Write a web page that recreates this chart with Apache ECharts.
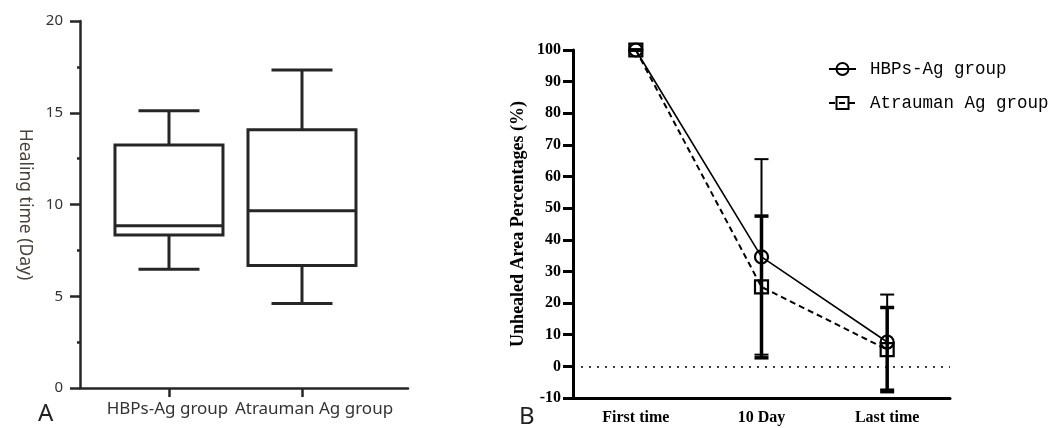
<!DOCTYPE html>
<html>
<head>
<meta charset="utf-8">
<script src="https://cdn.jsdelivr.net/npm/echarts@6/dist/echarts.min.js"></script>
<style>
  html, body { margin: 0; padding: 0; background: #fff; }
  #chart { width: 1051px; height: 428px; }
</style>
</head>
<body>
<div id="chart"></div>
<script>
// panel A - healing time (box plot)
const groups = ['HBPs-Ag group', 'Atrauman Ag group'];
const boxMin = [6.47, 4.61];
const boxQ1 = [8.34, 6.67];
const boxMedian = [8.84, 9.66];
const boxQ3 = [13.24, 14.08];
const boxMax = [15.11, 17.33];

// panel B - unhealed area percentages, mean and SD
const timePoints = ['First time', '10 Day', 'Last time'];
const hbpsMean = [100, 34.6, 7.7];
const hbpsSd = [0, 30.9, 15.0];
const atraMean = [100, 25.1, 5.3];
const atraSd = [0, 22.4, 13.3];

const chart = echarts.init(document.getElementById('chart'));

const boxData = groups.map((g, i) => [i, boxMin[i], boxQ1[i], boxMedian[i], boxQ3[i], boxMax[i]]);
const hbpsErr = timePoints.map((t, i) => [i, hbpsMean[i] - hbpsSd[i], hbpsMean[i] + hbpsSd[i]]);
const atraErr = timePoints.map((t, i) => [i, atraMean[i] - atraSd[i], atraMean[i] + atraSd[i]]);

function renderBox(params, api) {
  const x = api.value(0);
  const lo = api.coord([x, api.value(1)]);
  const q1 = api.coord([x, api.value(2)]);
  const md = api.coord([x, api.value(3)]);
  const q3 = api.coord([x, api.value(4)]);
  const hi = api.coord([x, api.value(5)]);
  const cx = lo[0], half = 54, cap = 30.5;
  const st = { stroke: '#262626', lineWidth: 3, fill: null };
  const seg = (x1, y1, x2, y2) => ({ type: 'line', shape: { x1, y1, x2, y2 }, style: st });
  return {
    type: 'group',
    children: [
      { type: 'rect', shape: { x: cx - half, y: q3[1], width: half * 2, height: q1[1] - q3[1] }, style: st },
      seg(cx - half, md[1], cx + half, md[1]),
      seg(cx, q3[1], cx, hi[1]),
      seg(cx, q1[1], cx, lo[1]),
      seg(cx - cap, hi[1], cx + cap, hi[1]),
      seg(cx - cap, lo[1], cx + cap, lo[1])
    ]
  };
}

function errRenderer(width) {
  return function (params, api) {
    const lo = api.coord([api.value(0), api.value(1)]);
    const hi = api.coord([api.value(0), api.value(2)]);
    const cx = lo[0], cap = 7;
    const st = { stroke: '#000', lineWidth: width };
    return {
      type: 'group',
      children: [
        { type: 'line', shape: { x1: cx, y1: lo[1], x2: cx, y2: hi[1] }, style: st },
        { type: 'line', shape: { x1: cx - cap, y1: lo[1], x2: cx + cap, y2: lo[1] }, style: st },
        { type: 'line', shape: { x1: cx - cap, y1: hi[1], x2: cx + cap, y2: hi[1] }, style: st }
      ]
    };
  };
}

const serifBold = { fontFamily: 'Liberation Serif', fontWeight: 'bold', color: '#000' };

chart.setOption({
  animation: false,
  backgroundColor: '#fff',
  grid: [
    { left: 80, top: 21, width: 328, height: 367 },
    { left: 573, top: 50, width: 377, height: 348 }
  ],
  legend: {
    data: ['HBPs-Ag group', 'Atrauman Ag group'],
    orient: 'vertical',
    left: 823,
    top: 55,
    itemWidth: 27,
    itemHeight: 15,
    itemGap: 16,
    textStyle: { fontFamily: 'Liberation Mono', fontSize: 17.5, color: '#000', padding: [0, 0, 0, 9] }
  },
  xAxis: [
    {
      gridIndex: 0,
      type: 'value',
      min: -0.669,
      max: 1.797,
      splitLine: { show: false },
      axisLine: { onZero: false, lineStyle: { color: '#262626', width: 2.5 } },
      axisTick: { customValues: [0, 1], length: 9, lineStyle: { color: '#262626', width: 2.5 } },
      axisLabel: {
        customValues: [0, 1],
        margin: 13,
        color: '#333',
        fontFamily: 'Noto Sans',
        fontSize: 17,
        formatter: v => v === 1 ? '{r|' + groups[1] + '}' : '{l|' + groups[0] + '}',
        rich: {
          l: { fontFamily: 'Noto Sans', fontSize: 17, color: '#333', padding: [0, 3, 0, 0] },
          r: { fontFamily: 'Noto Sans', fontSize: 17, color: '#333', padding: [0, 0, 0, 24] }
        }
      }
    },
    {
      gridIndex: 1,
      type: 'category',
      data: timePoints,
      axisLine: { onZero: false, lineStyle: { color: '#000', width: 3 } },
      axisTick: { alignWithLabel: true, length: 9, lineStyle: { color: '#000', width: 3 } },
      axisLabel: Object.assign({ fontSize: 16, margin: 12 }, serifBold)
    }
  ],
  yAxis: [
    {
      gridIndex: 0,
      type: 'value',
      min: 0,
      max: 20,
      interval: 5,
      name: 'Healing time (Day)',
      nameLocation: 'middle',
      nameRotate: -90,
      nameGap: 46,
      nameTextStyle: { fontFamily: 'Noto Sans', fontSize: 17.5, color: '#4a423a' },
      splitLine: { show: false },
      axisLine: { show: true, onZero: false, lineStyle: { color: '#262626', width: 2.5 } },
      axisTick: { show: true, length: 10, lineStyle: { color: '#262626', width: 2.5 } },
      minorTick: { show: true, splitNumber: 2, length: 3, lineStyle: { color: '#262626', width: 2.5 } },
      axisLabel: { margin: 17, color: '#333', fontFamily: 'Noto Sans', fontSize: 15 }
    },
    {
      gridIndex: 1,
      type: 'value',
      min: -10,
      max: 100,
      interval: 10,
      name: 'Unhealed Area Percentages (%)',
      nameLocation: 'middle',
      nameRotate: 90,
      nameGap: 46,
      nameTextStyle: Object.assign({ fontSize: 18 }, serifBold),
      splitLine: { show: false },
      axisLine: { show: true, onZero: false, lineStyle: { color: '#000', width: 3 } },
      axisTick: { show: true, length: 10, lineStyle: { color: '#000', width: 3 } },
      axisLabel: Object.assign({ fontSize: 16, margin: 12 }, serifBold)
    }
  ],
  graphic: [
    { type: 'text', left: 38, top: 402, style: { text: 'A', fontFamily: 'Noto Sans', fontSize: 24, fill: '#222' } },
    { type: 'text', left: 519, top: 405, style: { text: 'B', fontFamily: 'Noto Sans', fontSize: 24, fill: '#222' } }
  ],
  series: [
    {
      type: 'custom',
      xAxisIndex: 0,
      yAxisIndex: 0,
      data: boxData,
      encode: { x: 0, y: [1, 2, 3, 4, 5] },
      renderItem: renderBox
    },
    {
      type: 'custom',
      xAxisIndex: 1,
      yAxisIndex: 1,
      data: hbpsErr,
      encode: { x: 0, y: [1, 2] },
      renderItem: errRenderer(2),
      z: 3
    },
    {
      type: 'custom',
      xAxisIndex: 1,
      yAxisIndex: 1,
      data: atraErr,
      encode: { x: 0, y: [1, 2] },
      renderItem: errRenderer(3.5),
      z: 3
    },
    {
      name: 'HBPs-Ag group',
      type: 'line',
      xAxisIndex: 1,
      yAxisIndex: 1,
      data: hbpsMean,
      symbol: 'circle',
      symbolSize: 13,
      lineStyle: { color: '#000', width: 1.6 },
      itemStyle: { color: 'rgba(0,0,0,0)', borderColor: '#000', borderWidth: 2.2 },
      z: 5,
      markLine: {
        silent: true,
        symbol: 'none',
        label: { show: false },
        lineStyle: { color: '#000', width: 1.5, type: [2, 6] },
        data: [{ yAxis: 0 }]
      }
    },
    {
      name: 'Atrauman Ag group',
      type: 'line',
      xAxisIndex: 1,
      yAxisIndex: 1,
      data: atraMean,
      symbol: 'rect',
      symbolSize: 13,
      lineStyle: { color: '#000', width: 2, type: [6, 4] },
      itemStyle: { color: 'rgba(0,0,0,0)', borderColor: '#000', borderWidth: 2.2 },
      z: 5
    }
  ]
});
</script>
</body>
</html>
